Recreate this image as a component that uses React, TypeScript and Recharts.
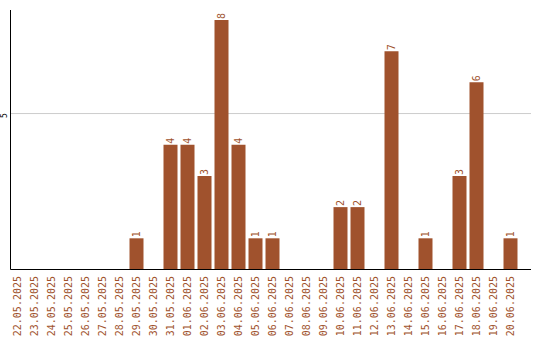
import React from "react";
import { BarChart, Bar, XAxis, YAxis, CartesianGrid, LabelList } from "recharts";

const dates = [
  "22.05.2025", "23.05.2025", "24.05.2025", "25.05.2025", "26.05.2025",
  "27.05.2025", "28.05.2025", "29.05.2025", "30.05.2025", "31.05.2025",
  "01.06.2025", "02.06.2025", "03.06.2025", "04.06.2025", "05.06.2025",
  "06.06.2025", "07.06.2025", "08.06.2025", "09.06.2025", "10.06.2025",
  "11.06.2025", "12.06.2025", "13.06.2025", "14.06.2025", "15.06.2025",
  "16.06.2025", "17.06.2025", "18.06.2025", "19.06.2025", "20.06.2025",
];

const counts = [
  0, 0, 0, 0, 0, 0, 0, 1, 0, 4,
  4, 3, 8, 4, 1, 1, 0, 0, 0, 2,
  2, 0, 7, 0, 1, 0, 3, 6, 0, 1,
];

const yTicks = [5];

const BROWN = "#a0522d";
const FONT = "'DejaVu Sans Mono', monospace";

const data = dates.map((d, i) => ({ dia: d, valor: counts[i] }));

function DateTick(props: any) {
  const { x, payload } = props;
  const y = 276;
  return (
    <text
      x={x}
      y={y}
      transform={`rotate(-90, ${x}, ${y})`}
      textAnchor="end"
      dominantBaseline="central"
      fill={BROWN}
      fontSize={10}
      fontFamily={FONT}
    >
      {payload.value}
    </text>
  );
}

function ValueTick(props: any) {
  const { y, payload } = props;
  const x = 5;
  const ty = y + 2;
  return (
    <text
      x={x}
      y={ty}
      transform={`rotate(-90, ${x}, ${ty})`}
      textAnchor="middle"
      dominantBaseline="central"
      fill="#000"
      fontSize={8}
      fontFamily={FONT}
    >
      {payload.value}
    </text>
  );
}

function BarLabel(props: any) {
  const { x, y, width, value } = props;
  if (!value) return null;
  const cx = x + width / 2;
  const ty = y - 1;
  return (
    <text
      x={cx}
      y={ty}
      transform={`rotate(-90, ${cx}, ${ty})`}
      textAnchor="start"
      dominantBaseline="central"
      fill={BROWN}
      fontSize={10}
      fontFamily={FONT}
    >
      {value}
    </text>
  );
}

export default function App() {
  return (
    <div style={{ position: "absolute", left: 0, top: 0, background: "#fff" }}>
      <BarChart
        width={540}
        height={340}
        data={data}
        margin={{ top: 10, right: 9, left: 0, bottom: 0 }}
        barSize={14}
      >
        <CartesianGrid
          horizontal
          vertical={false}
          stroke="#cccccc"
          horizontalValues={yTicks}
        />
        <XAxis
          dataKey="dia"
          height={70.5}
          interval={0}
          tickLine={false}
          axisLine={{ stroke: "#000" }}
          padding={{ left: -2, right: 12.5 }}
          tick={<DateTick />}
        />
        <YAxis
          width={10.5}
          domain={[0, 8.32]}
          ticks={yTicks}
          tickLine={false}
          axisLine={{ stroke: "#000" }}
          tick={<ValueTick />}
        />
        <Bar dataKey="valor" fill={BROWN} isAnimationActive={false}>
          <LabelList dataKey="valor" content={<BarLabel />} />
        </Bar>
      </BarChart>
    </div>
  );
}
